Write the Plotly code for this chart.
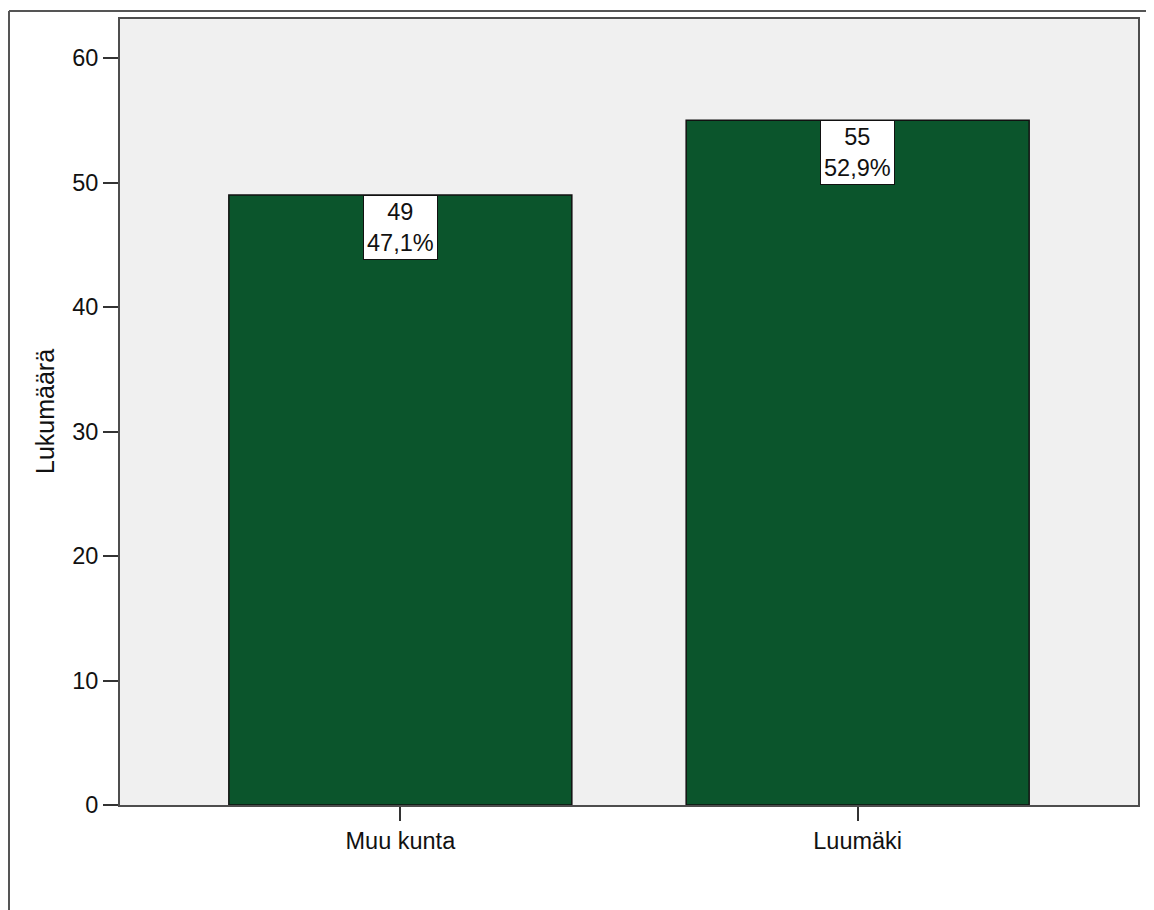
import plotly.graph_objects as go

categories = ["Muu kunta", "Luumäki"]
counts = [49, 55]
percents = ["47,1%", "52,9%"]
y_title = "Lukumäärä"
y_ticks = [0, 10, 20, 30, 40, 50, 60]

# page body has an 8px margin: figure origin sits at (8, 8)
OX, OY = 8, 8
W, H = 1141, 902
L, R, T, B = 120 - OX, 1138 - OX, 17 - OY, 805 - OY
FONT = "Liberation Sans, Arial, sans-serif"
FS = 23.5

fig = go.Figure()
fig.add_trace(go.Bar(
    x=categories, y=counts, width=0.75,
    marker=dict(color="#0b552c", line=dict(color="#111111", width=1.5)),
    hoverinfo="skip",
))

for c, v, p in zip(categories, counts, percents):
    fig.add_annotation(
        x=c, y=v, xref="x", yref="y", text=f"{v}<br>{p}",
        showarrow=False, yanchor="top", xanchor="center",
        bgcolor="white", bordercolor="#111111", borderwidth=1, borderpad=3,
        font=dict(family=FONT, size=FS, color="#111111"),
    )

def px_x(px):
    return (px - OX - L) / (R - L)

def px_y(py):
    return (B - (py - OY)) / (B - T)

# outer frame (left, top, right)
for x0, y0, x1, y1 in [(9, 9, 9, 930), (9, 9, 1148, 9), (1148, 9, 1148, 930)]:
    fig.add_shape(type="line", xref="paper", yref="paper",
                  x0=px_x(x0), y0=px_y(y0), x1=px_x(x1), y1=px_y(y1),
                  line=dict(color="#555555", width=2))

fig.add_annotation(
    x=px_x(45), y=px_y(411), xref="paper", yref="paper", text=y_title,
    textangle=-90, showarrow=False, xanchor="center", yanchor="middle",
    font=dict(family=FONT, size=25, color="#111111"),
)

fig.update_layout(
    width=W, height=H,
    margin=dict(l=L, r=W - R, t=T, b=H - B, pad=0),
    paper_bgcolor="white", plot_bgcolor="#f0f0f0",
    showlegend=False, bargap=0.25,
    font=dict(family=FONT, size=FS, color="#111111"),
)
fig.update_xaxes(
    range=[-0.613, 1.613], showgrid=False, zeroline=False,
    showline=True, linecolor="#4d4d4d", linewidth=2, mirror=True,
    ticks="outside", ticklen=14, tickcolor="#333333", tickwidth=1.5,
    tickfont=dict(family=FONT, size=FS, color="#111111"),
)
fig.update_yaxes(
    range=[0, 63.14], tickvals=y_ticks, showgrid=False, zeroline=False,
    showline=True, linecolor="#4d4d4d", linewidth=2, mirror=True,
    ticks="outside", ticklen=15, tickcolor="#333333", tickwidth=1.5,
    tickfont=dict(family=FONT, size=FS, color="#111111"),
)

fig.write_html("out.html")
